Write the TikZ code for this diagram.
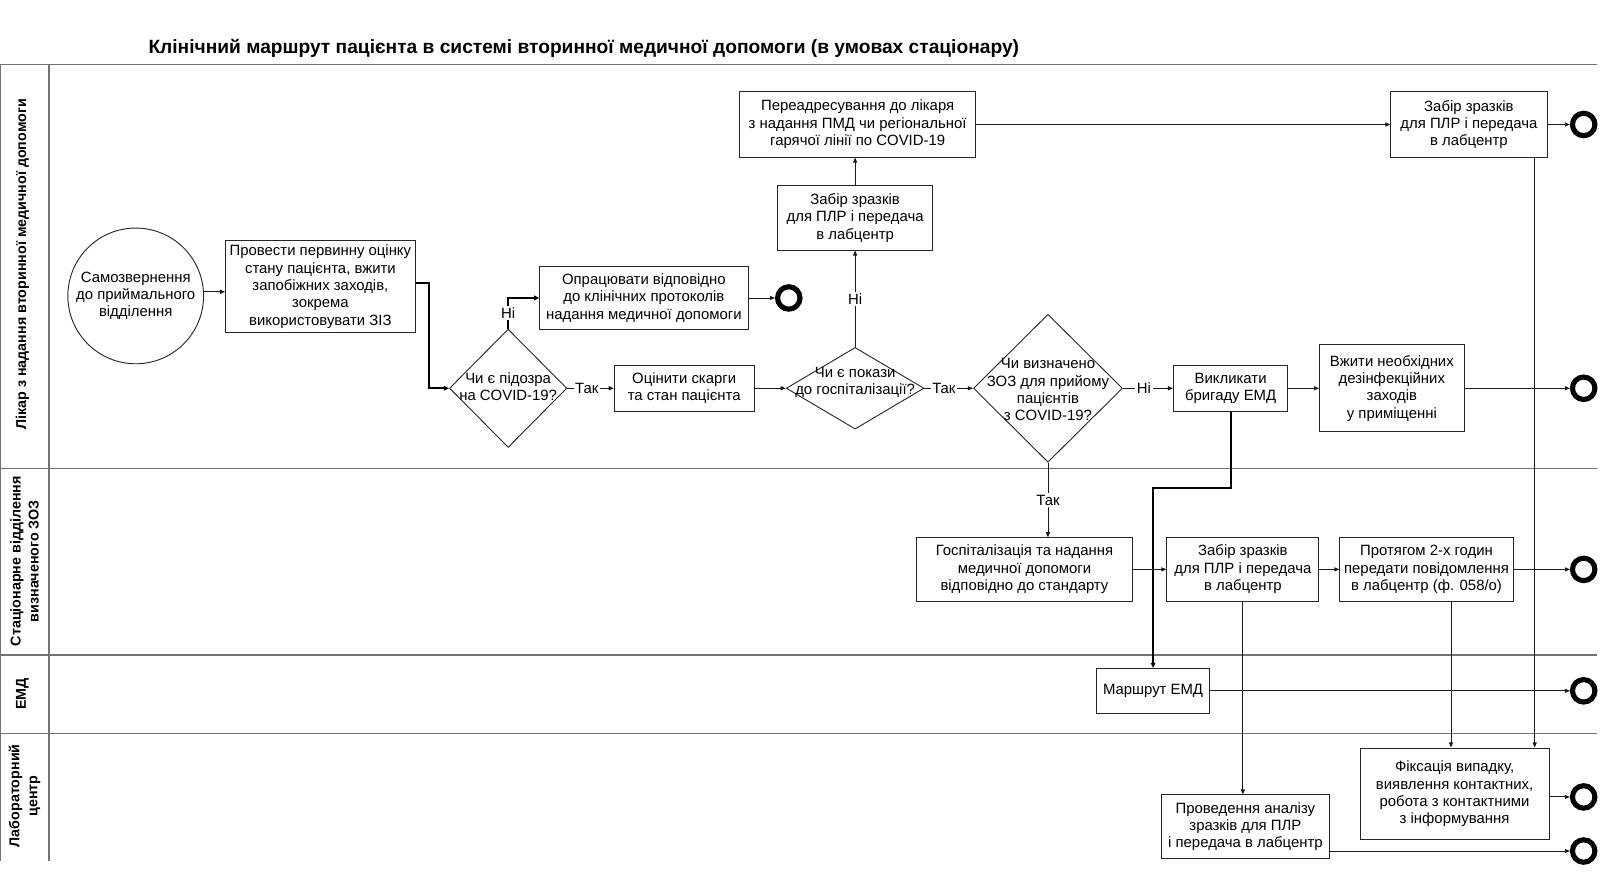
\documentclass[tikz,border=0pt]{standalone}
\usepackage{fontspec}
\setmainfont{Liberation Sans}
\usetikzlibrary{shapes.geometric,arrows.meta,calc}
\begin{document}
\begin{tikzpicture}[x=1pt,y=-1pt, font=\fontsize{14.6}{17}\selectfont,
 box/.style={draw=black!85, line width=0.9pt, align=center, inner sep=2pt, fill=white},
 dia/.style={diamond, draw=black!85, line width=0.9pt, inner sep=0pt},
 endc/.style={circle, draw=black, line width=5pt, minimum size=22pt, inner sep=0pt},
 arr/.style={draw=black!90, line width=0.9pt, -{Triangle[length=5pt,width=4pt]}},
 tarr/.style={draw=black, line width=1.8pt, -{Triangle[length=5pt,width=4.5pt]}},
 lane/.style={draw=black!55, line width=1.3pt},
 lbl/.style={fill=white, inner sep=1.5pt},
 lanelbl/.style={rotate=90, align=center, font=\bfseries\fontsize{14}{17.5}\selectfont}
 ]
\useasboundingbox (0,0) rectangle (1568,863.4);
% title
\node[anchor=west, font=\bfseries\fontsize{18.8}{22}\selectfont] (title) at (142,47) {Клінічний маршрут пацієнта в системі вторинної медичної допомоги (в умовах стаціонару)};
% lanes
\draw[lane] (0,63) -- (1565,63);
\draw[lane] (0,459) -- (1565,459);
\draw[lane] (0,642) -- (1565,642);
\draw[lane] (0,719) -- (1565,719);
\draw[lane] (0.7,63) -- (0.7,844);
\draw[lane] (48,63) -- (48,844);
\node[lanelbl] (l1) at (22,259) {Лікар з надання вторинної медичної допомоги};
\node[lanelbl] (l2) at (24,550) {Стаціонарне відділення\\визначеного ЗОЗ};
\node[lanelbl] (l3) at (22,680) {ЕМД};
\node[lanelbl] (l4) at (24,780) {Лабораторний\\центр};
% nodes
\node[circle, draw=black!85, line width=0.9pt, minimum size=133pt, align=center, inner sep=0pt] (start) at (133,290) {Самозвернення\\до приймального\\відділення};
\node[box, minimum width=186pt, minimum height=90pt] (b1) at (314,281) {Провести первинну оцінку\\стану пацієнта, вжити\\запобіжних заходів,\\зокрема\\використовувати ЗІЗ};
\node[dia, minimum width=115pt, minimum height=116pt] (d1) at (498,380.5) {};
\node[align=center] (d1t) at (498,379) {Чи є підозра\\на COVID-19?};
\node[box, minimum width=204pt, minimum height=62pt] (b2) at (631,292) {Опрацювати відповідно\\до клінічних протоколів\\надання медичної допомоги};
\node[endc] (e1) at (773,292) {};
\node[box, minimum width=137pt, minimum height=45pt] (b3) at (670.5,380.5) {Оцінити скарги\\та стан пацієнта};
\node[dia, minimum width=135pt, minimum height=80pt] (d2) at (838,380.5) {};
\node[align=center] (d2t) at (838,375) {Чи є покази\\до госпіталізації?};
\node[box, minimum width=152pt, minimum height=63pt] (b4) at (838,213.5) {Забір зразків\\для ПЛР і передача\\в лабцентр};
\node[box, minimum width=231pt, minimum height=64pt] (b5) at (840.5,122) {Переадресування до лікаря\\з надання ПМД чи регіональної\\гарячої лінії по COVID-19};
\node[box, minimum width=153pt, minimum height=64pt] (b6) at (1439.5,122) {Забір зразків\\для ПЛР і передача\\в лабцентр};
\node[endc] (e2) at (1552,122) {};
\node[dia, minimum width=146pt, minimum height=145pt] (d3) at (1027,380.5) {};
\node[align=center] (d3t) at (1027,382) {Чи визначено\\ЗОЗ для прийому\\пацієнтів\\з COVID-19?};
\node[box, minimum width=112pt, minimum height=45pt] (b7) at (1206,380.5) {Викликати\\бригаду ЕМД};
\node[box, minimum width=142pt, minimum height=85pt] (b8) at (1364,380.5) {Вжити необхідних\\дезінфекційних\\заходів\\у приміщенні};
\node[endc] (e3) at (1552,380.5) {};
\node[box, minimum width=110pt, minimum height=44pt] (b9) at (1130,677) {Маршрут ЕМД};
\node[endc] (e5) at (1552,677) {};
\node[box, minimum width=212pt, minimum height=62pt] (b10) at (1004,558) {Госпіталізація та надання\\медичної допомоги\\відповідно до стандарту};
\node[box, minimum width=149pt, minimum height=62pt] (b11) at (1218,558) {Забір зразків\\для ПЛР і передача\\в лабцентр};
\node[box, minimum width=170pt, minimum height=62pt] (b12) at (1398,558) {Протягом 2-х годин\\передати повідомлення\\в лабцентр (ф. 058/о)};
\node[endc] (e4) at (1552,558) {};
\node[box, minimum width=165pt, minimum height=62pt] (b13) at (1220.5,810) {Проведення аналізу\\зразків для ПЛР\\і передача в лабцентр};
\node[box, minimum width=185pt, minimum height=90pt] (b14) at (1425.5,778) {Фіксація випадку,\\виявлення контактних,\\робота з контактними\\з інформування};
\node[endc] (e6) at (1552,781) {};
\node[endc] (e7) at (1552,834) {};
% connectors
\draw[arr] ([yshift=4pt]start.east) -- ([yshift=4pt]start.east -| b1.west);
\draw[tarr] ([yshift=4pt]b1.east) -- ++(13,0) |- (d1.west);
\draw[tarr] (d1.north) |- node[lbl,pos=0.25]{Ні} (b2.west);
\draw[arr] (b2.east) -- (e1.west);
\draw[arr] (d1.east) -- node[lbl,pos=0.42]{Так} (b3.west);
\draw[arr] (b3.east) -- (d2.west);
\draw[arr] (d2.north) -- node[lbl,pos=0.5]{Ні} (b4.south);
\draw[arr] (b4.north) -- (b4.north |- b5.south);
\draw[arr] (b5.east) -- (b6.west);
\draw[arr] (b6.east) -- (e2.west);
\draw[arr] (d2.east) -- node[lbl,pos=0.4]{Так} (d3.west);
\draw[arr] (d3.east) -- node[lbl,pos=0.42]{Ні} (b7.west);
\draw[arr] (b7.east) -- (b8.west);
\draw[arr] (b8.east) -- (e3.west);
\draw[tarr] (b7.south) -- ++(0,75) -| (b9.north);
\draw[arr] (d3.south) -- node[lbl,pos=0.5]{Так} (d3.south |- b10.north);
\draw[arr] (b10.east) -- (b11.west);
\draw[arr] (b11.east) -- (b12.west);
\draw[arr] (b12.east) -- (e4.west);
\draw[arr] (b9.east) -- (e5.west);
\draw[arr] (b11.south) -- (b11.south |- b13.north);
\draw[arr] ([xshift=24pt]b12.south) -- ([xshift=24pt]b12.south |- b14.north);
\draw[arr] ([xshift=64.5pt]b6.south) -- ([xshift=64.5pt]b6.south |- b14.north);
\draw[arr] (b14.east |- e6) -- (e6.west);
\draw[arr] (b13.east |- e7) -- (e7.west);
\end{tikzpicture}
\end{document}
